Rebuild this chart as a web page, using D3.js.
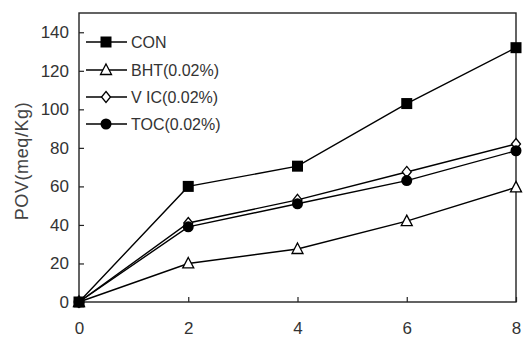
<!DOCTYPE html>
<html>
<head>
<meta charset="utf-8">
<script src="https://cdn.jsdelivr.net/npm/d3@7"></script>
<style>
  html, body { margin: 0; padding: 0; background: #fff; }
  svg { display: block; }
  text { font-family: "Liberation Sans", Arial, sans-serif; fill: #333; }
</style>
</head>
<body>
<svg id="chart" width="523" height="341"></svg>
<script>
// Storage time (x) and peroxide value per treatment
const days = [0, 2, 4, 6, 8];
const conValues = [0, 60, 70.5, 103, 132];
const bhtValues = [0, 20, 27.5, 42, 59.5];
const vicValues = [0, 41, 53, 67.5, 82];
const tocValues = [0, 39, 51, 63, 78.5];
const seriesNames = ["CON", "BHT(0.02%)", "V IC(0.02%)", "TOC(0.02%)"];
const markerKinds = ["square", "triangle", "diamond", "circle"];
const xTicks = [0, 2, 4, 6, 8];
const yTicks = [0, 20, 40, 60, 80, 100, 120, 140];
const yTitle = "POV(meq/Kg)";

const seriesValues = [conValues, bhtValues, vicValues, tocValues];

const svg = d3.select("#chart");
const plotL = 79, plotR = 516, plotT = 13, plotB = 302;

const x = d3.scaleLinear().domain([0, 8]).range([plotL, plotR]);
const y = d3.scaleLinear().domain([0, 150]).range([plotB, plotT]);

// Frame
svg.append("rect")
  .attr("x", plotL).attr("y", plotT)
  .attr("width", plotR - plotL).attr("height", plotB - plotT)
  .attr("fill", "none").attr("stroke", "#222").attr("stroke-width", 1.4);

// Y axis: ticks pointing inward
const yAxis = d3.axisRight(y).tickValues(yTicks).tickSize(5).tickFormat(d3.format("d"));
const gy = svg.append("g").attr("transform", `translate(${plotL},0)`).call(yAxis);
gy.select(".domain").remove();
gy.selectAll(".tick line").attr("stroke", "#222").attr("stroke-width", 1.2);
gy.selectAll(".tick text")
  .attr("x", -10).attr("text-anchor", "end")
  .style("font-size", "17px").style("fill", "#333");

// X axis: ticks pointing upward
const xAxis = d3.axisTop(x).tickValues(xTicks).tickSize(5).tickFormat(d3.format("d"));
const gx = svg.append("g").attr("transform", `translate(0,${plotB})`).call(xAxis);
gx.select(".domain").remove();
gx.selectAll(".tick line").attr("stroke", "#222").attr("stroke-width", 1.2);
gx.selectAll(".tick text")
  .attr("y", 26).attr("dy", "0.35em").attr("text-anchor", "middle")
  .style("font-size", "17px").style("fill", "#333");

// Y title
svg.append("text")
  .attr("transform", `translate(28,161) rotate(-90)`)
  .attr("text-anchor", "middle")
  .style("font-size", "18px")
  .style("letter-spacing", "0.6px")
  .style("fill", "#444")
  .text(yTitle);

// Marker drawing
function drawMarker(g, kind, cx, cy) {
  if (kind === "square") {
    g.append("rect").attr("x", cx - 5.5).attr("y", cy - 5.5).attr("width", 11).attr("height", 11)
      .attr("fill", "#000");
  } else if (kind === "circle") {
    g.append("circle").attr("cx", cx).attr("cy", cy).attr("r", 5.5).attr("fill", "#000");
  } else if (kind === "triangle") {
    g.append("path")
      .attr("d", `M${cx},${cy - 6}L${cx + 5.5},${cy + 4.5}L${cx - 5.5},${cy + 4.5}Z`)
      .attr("fill", "#fff").attr("stroke", "#000").attr("stroke-width", 1.3);
  } else if (kind === "diamond") {
    g.append("path")
      .attr("d", `M${cx},${cy - 5.5}L${cx + 4.5},${cy}L${cx},${cy + 5.5}L${cx - 4.5},${cy}Z`)
      .attr("fill", "#fff").attr("stroke", "#000").attr("stroke-width", 1.3);
  }
}

const line = d3.line().x((d, i) => x(days[i])).y(d => y(d));

// Series lines first, then markers: open ones underneath, filled ones on top
seriesValues.forEach(vals => {
  svg.append("path").datum(vals).attr("d", line)
    .attr("fill", "none").attr("stroke", "#000").attr("stroke-width", 1.4);
});
[1, 2, 3, 0].forEach(s => {
  const g = svg.append("g");
  seriesValues[s].forEach((v, i) => drawMarker(g, markerKinds[s], x(days[i]), y(v)));
});

// Legend
const legendRows = [42, 70, 97, 124];
seriesNames.forEach((name, i) => {
  const g = svg.append("g");
  const ly = legendRows[i];
  g.append("line").attr("x1", 86).attr("x2", 127).attr("y1", ly).attr("y2", ly)
    .attr("stroke", "#000").attr("stroke-width", 1.4);
  drawMarker(g, markerKinds[i], 106, ly);
  g.append("text").attr("x", 131).attr("y", ly).attr("dy", "0.36em")
    .style("font-size", "16px").text(name);
});
</script>
</body>
</html>
